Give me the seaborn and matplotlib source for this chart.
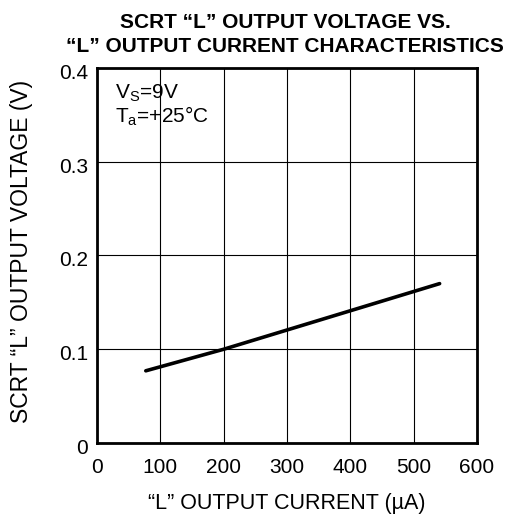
import matplotlib
matplotlib.use("Agg")
import matplotlib.pyplot as plt
import matplotlib.transforms as mtransforms
import seaborn as sns
import pandas as pd

current_uA = [77, 200, 541]
voltage_V = [0.077, 0.100, 0.170]
x_ticks = [0, 100, 200, 300, 400, 500, 600]
y_ticks = [0, 0.1, 0.2, 0.3, 0.4]
y_tick_labels = ["0", "0.1", "0.2", "0.3", "0.4"]

sns.set_style("white")
plt.rcParams['font.family'] = ['Liberation Sans', 'DejaVu Sans']
plt.rcParams['mathtext.fontset'] = 'custom'
plt.rcParams['mathtext.rm'] = 'Liberation Sans'
for k in ['text.color', 'axes.labelcolor', 'xtick.color', 'ytick.color']:
    plt.rcParams[k] = 'black'

df = pd.DataFrame({"current": current_uA, "voltage": voltage_V})

fig = plt.figure(figsize=(5.12, 5.15), dpi=100)
ax = fig.add_axes([0.1895, 0.1398, 0.7421, 0.7282])
sns.lineplot(data=df, x="current", y="voltage", ax=ax, color="black", linewidth=2.6)

ax.set_xlim(0, 600)
ax.set_ylim(0, 0.4)
ax.set_xticks(x_ticks)
ax.set_yticks(y_ticks)
ax.set_yticklabels(y_tick_labels)
ax.tick_params(axis='x', length=0, pad=11, labelsize=15)
ax.tick_params(axis='y', length=0, pad=6.5, labelsize=15)
ax.grid(True, color="black", linewidth=0.8)
for s in ax.spines.values():
    s.set_color("black")
    s.set_linewidth(2.0)

# y tick labels sit slightly below their grid lines in the reference
offset = mtransforms.ScaledTranslation(0, -3.5 / 100, fig.dpi_scale_trans)
for lab in ax.get_yticklabels():
    lab.set_transform(lab.get_transform() + offset)

ax.set_xlabel("\u201cL\u201d OUTPUT CURRENT (\u00b5A)", fontsize=15.5, labelpad=11)
ax.set_ylabel("SCRT \u201cL\u201d OUTPUT VOLTAGE (V)", fontsize=16.5)
ax.yaxis.set_label_coords(-0.168, 0.51)
ax.set_title("SCRT \u201cL\u201d OUTPUT VOLTAGE VS.\n\u201cL\u201d OUTPUT CURRENT CHARACTERISTICS",
             fontsize=15, fontweight="bold", pad=11.5, linespacing=1.35, x=0.495)

ax.text(0.047, 0.92, "V$_{\\mathregular{S}}$=9V", transform=ax.transAxes,
        fontsize=15, va="baseline", ha="left")
ax.text(0.047, 0.856, "T$_{\\mathregular{a}}$=+25\u00b0C", transform=ax.transAxes,
        fontsize=15, va="baseline", ha="left")

fig.savefig("out.png", dpi=100)
